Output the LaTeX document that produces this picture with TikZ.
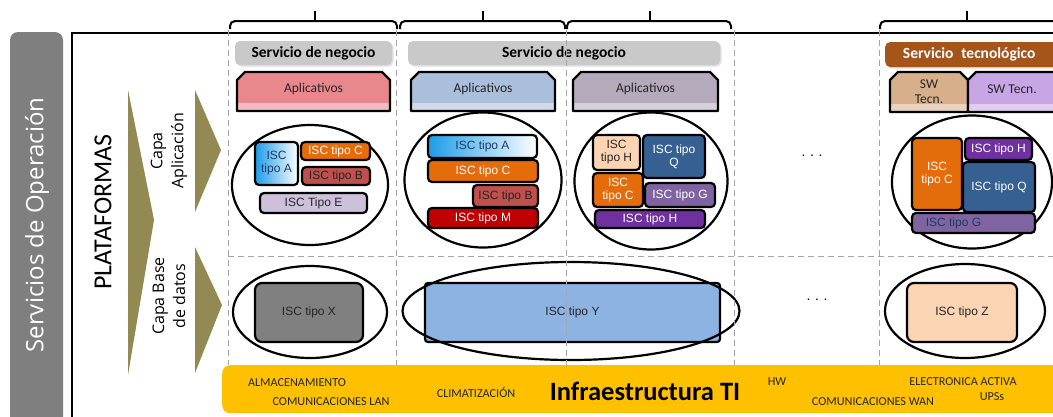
\documentclass[tikz,border=0pt]{standalone}
\usepackage{fontspec}
\setmainfont{Carlito}
\newfontfamily\arialf{Liberation Sans}
\newfontfamily\osans{Open Sans}
\usetikzlibrary{shapes.geometric,shadows}

\definecolor{opgray}{HTML}{7F7F7F}
\definecolor{hdrgray}{HTML}{C9C9C9}
\definecolor{techbrown}{HTML}{A5541A}
\definecolor{tabpink}{HTML}{E8888D}
\definecolor{tabblue}{HTML}{A9BFDC}
\definecolor{tabmauve}{HTML}{B4AABB}
\definecolor{tabtan}{HTML}{D8AF8B}
\definecolor{tablav}{HTML}{C8A6E6}
\definecolor{iscorange}{HTML}{E46C0A}
\definecolor{iscred}{HTML}{C0504D}
\definecolor{isclav}{HTML}{CCC0DA}
\definecolor{iscdarkred}{HTML}{C00000}
\definecolor{iscpeach}{HTML}{FBD4B4}
\definecolor{iscsteel}{HTML}{366092}
\definecolor{iscpurple}{HTML}{8064A2}
\definecolor{iscviolet}{HTML}{7030A0}
\definecolor{iscgray}{HTML}{808080}
\definecolor{iscblue}{HTML}{8DB3E2}
\definecolor{iscsky}{HTML}{1C9CE8}
\definecolor{infracol}{HTML}{FFC000}
\definecolor{arrowolive}{HTML}{938953}
\definecolor{dashgray}{HTML}{A6A6A6}
\definecolor{darktxt}{HTML}{262626}
\definecolor{navytxt}{HTML}{1F3A66}

% tab with chamfered upper corners: x0, x1, ytop, ybottom, colour
\newcommand\apptab[5]{%
  \fill[#5] (#1,#4) -- (#1,#3+8) -- (#1+8,#3) -- (#2-8,#3) -- (#2,#3+8) -- (#2,#4) -- cycle;
  \fill[white,opacity=.45] (#1,#4-8) rectangle (#2,#4);
  \draw[line width=2.4pt,line join=round] (#1,#4) -- (#1,#3+8) -- (#1+8,#3) -- (#2-8,#3) -- (#2,#3+8) -- (#2,#4) -- cycle;
}
% brace over a column: x0, x1, x of the tick
\newcommand\colbrace[3]{%
  \draw[line width=2pt,rounded corners=5pt] (#1,29) -- (#1,21) -- (#2,21) -- (#2,29);
  \draw[line width=2pt] (#3,21) -- (#3,11);
}

\tikzset{
  isc/.style={draw=black,line width=2.2pt,rounded corners=4pt,inner sep=0pt,align=center,
    font=\arialf\fontsize{12}{13}\selectfont},
  hdr/.style={fill=hdrgray,rounded corners=5pt,inner sep=0pt,minimum height=24pt,
    font=\bfseries\fontsize{15.5}{17}\selectfont,
    drop shadow={opacity=.25,shadow xshift=1.5pt,shadow yshift=-1.5pt}},
  ring/.style={draw=black,line width=2.2pt,ellipse,inner sep=0pt},
  tabtext/.style={font=\fontsize{13.5}{15}\selectfont,text=darktxt,align=center},
  coldash/.style={draw=dashgray,line width=1pt,dash pattern=on 6pt off 4pt},
  infratext/.style={font=\fontsize{12.2}{13}\selectfont,text=darktxt},
  dotsnode/.style={font=\arialf\fontsize{14}{14}\selectfont},
}

\begin{document}
\begin{tikzpicture}[x=1pt,y=-1pt]
\clip (0,0) rectangle (1053,416);
\fill[white] (0,0) rectangle (1053,416);

% left band and frame
\fill[opgray,rounded corners=8pt] (10,32) rectangle (63,440);
\node[rotate=90,text=white,font=\osans\fontsize{24}{28}\selectfont] (svcop) at (37,225) {Servicios de Operación};
\draw[line width=2pt] (72,440) -- (72,33) -- (1060,33);

% layer arrows
\fill[arrowolive] (128,90) -- (154,220) -- (128,375) -- cycle;
\fill[arrowolive] (195,90) -- (221,150) -- (195,212) -- cycle;
\fill[arrowolive] (195,247) -- (222,305) -- (195,373) -- cycle;
\node[rotate=90,font=\fontsize{26}{30}\selectfont] (plat) at (103,212) {PLATAFORMAS};
\node[rotate=90,align=center,font=\osans\fontsize{16}{21}\selectfont] (capaapp) at (169,151) {Capa\\Aplicación};
\node[rotate=90,align=center,font=\osans\fontsize{16}{21}\selectfont] (capadb) at (169,296) {Capa Base\\de datos};

% braces
\colbrace{230}{397}{315}
\colbrace{400}{565}{483}
\colbrace{567}{731}{650}
\colbrace{880}{1062}{967}

% service headers
\node[hdr,minimum width=157pt] (hdrone) at (313.5,53) {Servicio de negocio};
\node[hdr,minimum width=312pt] (hdrtwo) at (564,53) {Servicio de negocio};
\node[hdr,fill=techbrown,text=white,minimum width=180pt,minimum height=25pt,anchor=west] (hdrtech) at (885,54.5) {\hspace*{-12pt}Servicio\enspace tecnológico};

% application tabs
\apptab{237}{390}{72}{111}{tabpink}
\node[tabtext] (tabone) at (313.5,89) {Aplicativos};
\apptab{411}{555}{72}{111}{tabblue}
\node[tabtext] (tabtwo) at (483,89) {Aplicativos};
\apptab{573}{718}{72}{111}{tabmauve}
\node[tabtext] (tabthree) at (645.5,89) {Aplicativos};
\apptab{890}{968}{72}{112}{tabtan}
\node[tabtext,font=\fontsize{13.5}{15}\selectfont] (tabfour) at (929,92) {SW\\Tecn.};
\apptab{968}{1075}{72}{112}{tablav}
\node[tabtext] (tabfive) at (1012,89) {SW Tecn.};

% application layer rings
\node[ring,minimum width=156pt,minimum height=120pt] (ringone) at (310,185) {};
\node[ring,minimum width=157pt,minimum height=135pt] (ringtwo) at (483,180) {};
\node[ring,minimum width=153pt,minimum height=137pt] (ringthree) at (651,181) {};
\node[ring,minimum width=160pt,minimum height=133pt] (ringfive) at (972,182) {};

% column 1
\node[isc,minimum width=43pt,minimum height=43pt,left color=iscsky,right color=white,text=navytxt] (aone) at (276.5,163.5) {ISC\\tipo A};
\node[isc,fill=iscorange,text=white,minimum width=69pt,minimum height=18pt] (cone) at (335.5,151) {ISC tipo C};
\node[isc,fill=iscred,text=darktxt,minimum width=68pt,minimum height=18pt] (bone) at (336,176) {ISC tipo B};
\node[isc,fill=isclav,text=darktxt,minimum width=107pt,minimum height=20pt] (eone) at (313.5,203) {ISC Tipo E};

% column 2
\node[isc,minimum width=109pt,minimum height=23pt,left color=iscsky,right color=white,text=navytxt] (atwo) at (482.5,146.5) {ISC tipo A};
\node[isc,fill=iscorange,text=white,minimum width=110pt,minimum height=22pt] (ctwo) at (483,171) {ISC tipo C};
\node[isc,fill=iscred,text=darktxt,minimum width=65pt,minimum height=22pt] (btwo) at (505.5,196) {ISC tipo B};
\node[isc,fill=iscdarkred,text=white,minimum width=110pt,minimum height=20pt] (mtwo) at (483,218) {ISC tipo M};

% column 3
\node[isc,fill=iscpeach,text=darktxt,minimum width=47pt,minimum height=35pt] (hthree) at (616.5,152.5) {ISC\\tipo H};
\node[isc,fill=iscsteel,text=white,minimum width=62pt,minimum height=43pt] (qthree) at (674,156.5) {ISC tipo\\Q};
\node[isc,fill=iscorange,text=white,minimum width=50pt,minimum height=34pt] (cthree) at (618,190) {ISC\\tipo C};
\node[isc,fill=iscpurple,text=white,minimum width=70pt,minimum height=24pt] (gthree) at (680,195) {ISC tipo G};
\node[isc,fill=iscviolet,text=white,minimum width=110pt,minimum height=18pt] (hvthree) at (650,219) {ISC tipo H};

% column 5
\node[isc,fill=iscorange,text=white,minimum width=50pt,minimum height=72pt] (cfive) at (937,174) {ISC\\tipo C};
\node[isc,fill=iscviolet,text=white,minimum width=67pt,minimum height=22pt] (hfive) at (998.5,149) {ISC tipo H};
\node[isc,fill=iscsteel,text=white,minimum width=72pt,minimum height=50pt] (qfive) at (999,187) {ISC tipo Q};
\node[isc,fill=iscpurple,text=navytxt,minimum width=123pt,minimum height=20pt] (gfive) at (973.5,223) {\hspace*{-40pt}ISC tipo G};

\node[dotsnode] (dotsapp) at (812,156) {.\,\,.\,\,.};

% database layer
\node[isc,fill=iscgray,text=darktxt,minimum width=108pt,minimum height=59pt,rounded corners=7pt] (xone) at (309,312.5) {ISC tipo X};
\node[ring,minimum width=154pt,minimum height=92pt] (dbringone) at (310,312) {};
\node[isc,fill=iscblue,text=darktxt,minimum width=295pt,minimum height=59pt,rounded corners=3pt] (ytwo) at (572.5,312.5) {ISC tipo Y};
\node[ring,minimum width=337pt,minimum height=98pt] (dbringtwo) at (571,311) {};
\node[isc,fill=iscpeach,text=darktxt,minimum width=110pt,minimum height=59pt,rounded corners=7pt] (zfive) at (962,312.5) {ISC tipo Z};
\node[ring,minimum width=160pt,minimum height=94pt] (dbringfive) at (965,311) {};
\node[dotsnode] (dotsdb) at (817,300) {.\,\,.\,\,.};

% column and layer separators
\foreach \cx in {228,396,566,734,879}
  \draw[coldash] (\cx,30) -- (\cx,365);
\draw[coldash] (228,256) -- (1060,256);

% infrastructure band
\node[fill=infracol,rounded corners=8pt,minimum width=860pt,minimum height=48pt,anchor=north west,inner sep=0pt] (infra) at (222,365) {};
\node[infratext] (alm) at (297,383) {ALMACENAMIENTO};
\node[infratext] (lan) at (331,402) {COMUNICACIONES LAN};
\node[infratext] (clim) at (476,392) {CLIMATIZACIÓN};
\node[font=\bfseries\fontsize{26.5}{28}\selectfont] (infrati) at (645,391) {Infraestructura TI};
\node[infratext] (hw) at (777,382) {HW};
\node[infratext] (elec) at (963,382) {ELECTRONICA ACTIVA};
\node[infratext] (wan) at (873,402) {COMUNICACIONES WAN};
\node[infratext] (ups) at (992,397) {UPSs};
\end{tikzpicture}
\end{document}
